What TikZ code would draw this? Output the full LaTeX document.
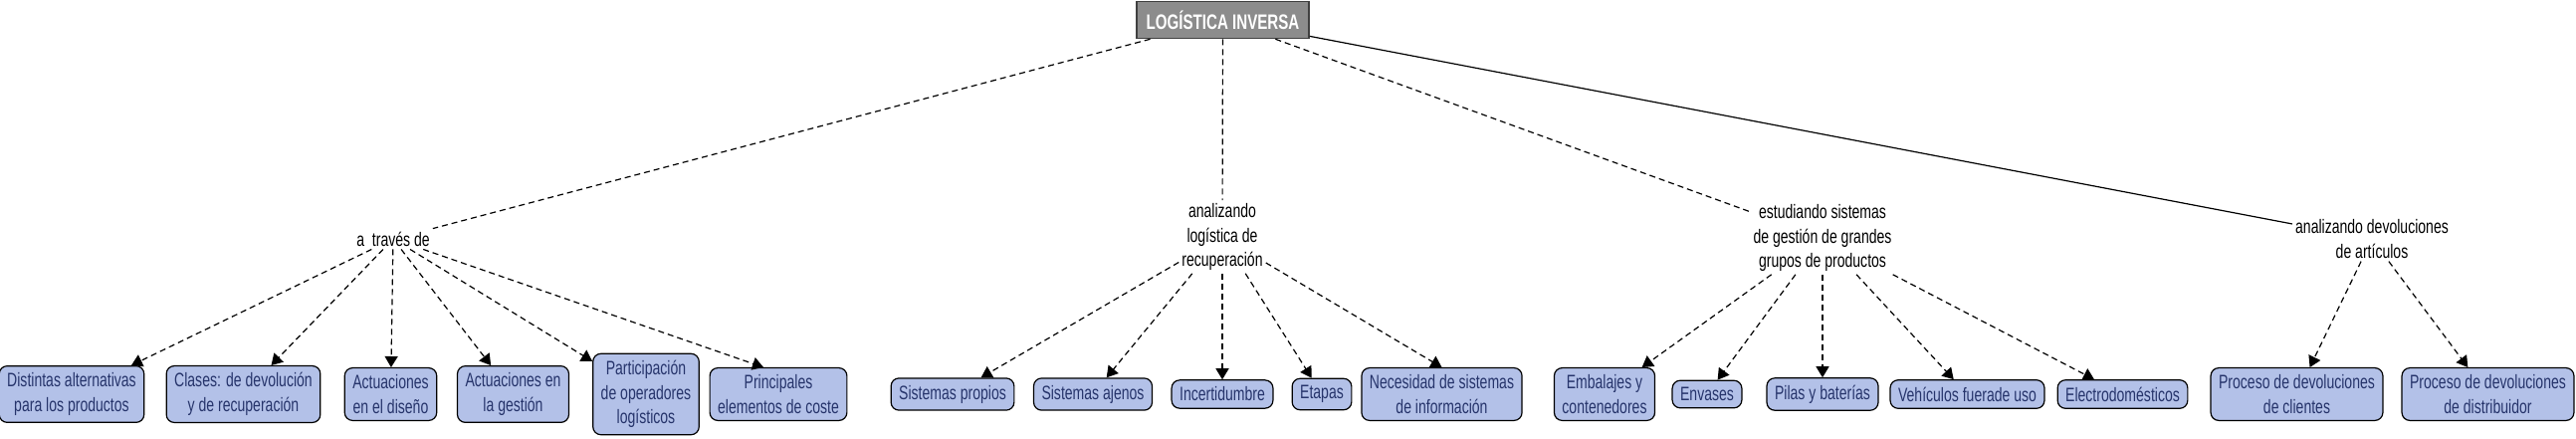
\documentclass[tikz,border=0pt]{standalone}
\usepackage{fontspec}
\setmainfont{Liberation Sans}[FakeStretch=0.72]
\usetikzlibrary{arrows.meta}
\definecolor{boxfill}{HTML}{B3C1E8}
\definecolor{boxtext}{HTML}{26346B}
\definecolor{rootfill}{HTML}{8C8C8C}
\begin{document}
\begin{tikzpicture}[x=1pt,y=-1pt,
  every node/.style={font=\fontsize{19.5}{24.5}\selectfont},
  concept/.style={draw=black, line width=1.2pt, fill=boxfill, rounded corners=8pt, text=boxtext, align=center, inner xsep=8pt, inner ysep=7pt},
  linker/.style={align=center, inner sep=3pt, text=black},
  rootbox/.style={draw=black!75, line width=1.6pt, fill=rootfill, text=white, font=\fontsize{21}{24}\selectfont\bfseries, minimum height=37pt, minimum width=173pt},
  dashlink/.style={line width=1.2pt, dash pattern=on 6pt off 4pt},
  arrowlink/.style={dashlink, -{Triangle[length=11pt,width=13pt]}},
]
\useasboundingbox (0,0) rectangle (2588,440);

\node[rootbox] (root) at (1228.5,20) {LOGÍSTICA INVERSA};

\node[linker] (l1) at (395,240) {a\ \ través de};
\node[linker] (l2) at (1228,238) {analizando\\logística de\\recuperación};
\node[linker] (l3) at (1831,239) {estudiando sistemas\\de gestión de grandes\\grupos de productos};
\node[linker] (l4) at (2383,240) {analizando devoluciones\\de artículos};

\node[concept] (b1) at (72,396) {Distintas alternativas\\para los productos};
\node[concept] (b2) at (244.5,396) {Clases: de devolución\\y de recuperación};
\node[concept] (b3) at (392.5,396) {Actuaciones\\en el diseño};
\node[concept] (b4) at (515.5,396) {Actuaciones en\\la gestión};
\node[concept] (b5) at (649,396) {Participación\\de operadores\\logísticos};
\node[concept] (b6) at (782,396) {Principales\\elementos de coste};

\node[concept] (b7) at (957,396) {Sistemas propios};
\node[concept] (b8) at (1098,396) {Sistemas ajenos};
\node[concept] (b9) at (1228,396) {Incertidumbre};
\node[concept] (b10) at (1328,396) {Etapas};
\node[concept] (b11) at (1448.5,396) {Necesidad de sistemas\\de información};

\node[concept] (b12) at (1612,396) {Embalajes y\\contenedores};
\node[concept] (b13) at (1715,396) {Envases};
\node[concept] (b14) at (1831,396) {Pilas y baterías};
\node[concept] (b15) at (1976.5,396) {Vehículos fuerade uso};
\node[concept] (b16) at (2132.5,396) {Electrodomésticos};

\node[concept] (b17) at (2307.5,396) {Proceso de devoluciones\\de clientes};
\node[concept] (b18) at (2499.5,396) {Proceso de devoluciones\\de distribuidor};

\draw[dashlink] (root) -- (l1);
\draw[dashlink] (root) -- (l2);
\draw[dashlink] (root) -- (l3);
\draw[line width=1.2pt] (root) -- (l4);

\foreach \b in {b1,b2,b3,b4,b5} \draw[arrowlink] (l1) -- (\b);
\draw[arrowlink] (l1) -- ([xshift=-15pt]b6.north);
\foreach \b in {b7,b8,b9,b10} \draw[arrowlink] (l2) -- (\b);
\draw[arrowlink] (l2) -- (b11.north);
\foreach \b in {b12,b13,b14,b15,b16} \draw[arrowlink] (l3) -- (\b);
\foreach \b in {b17,b18} \draw[arrowlink] (l4) -- (\b);
\end{tikzpicture}
\end{document}
